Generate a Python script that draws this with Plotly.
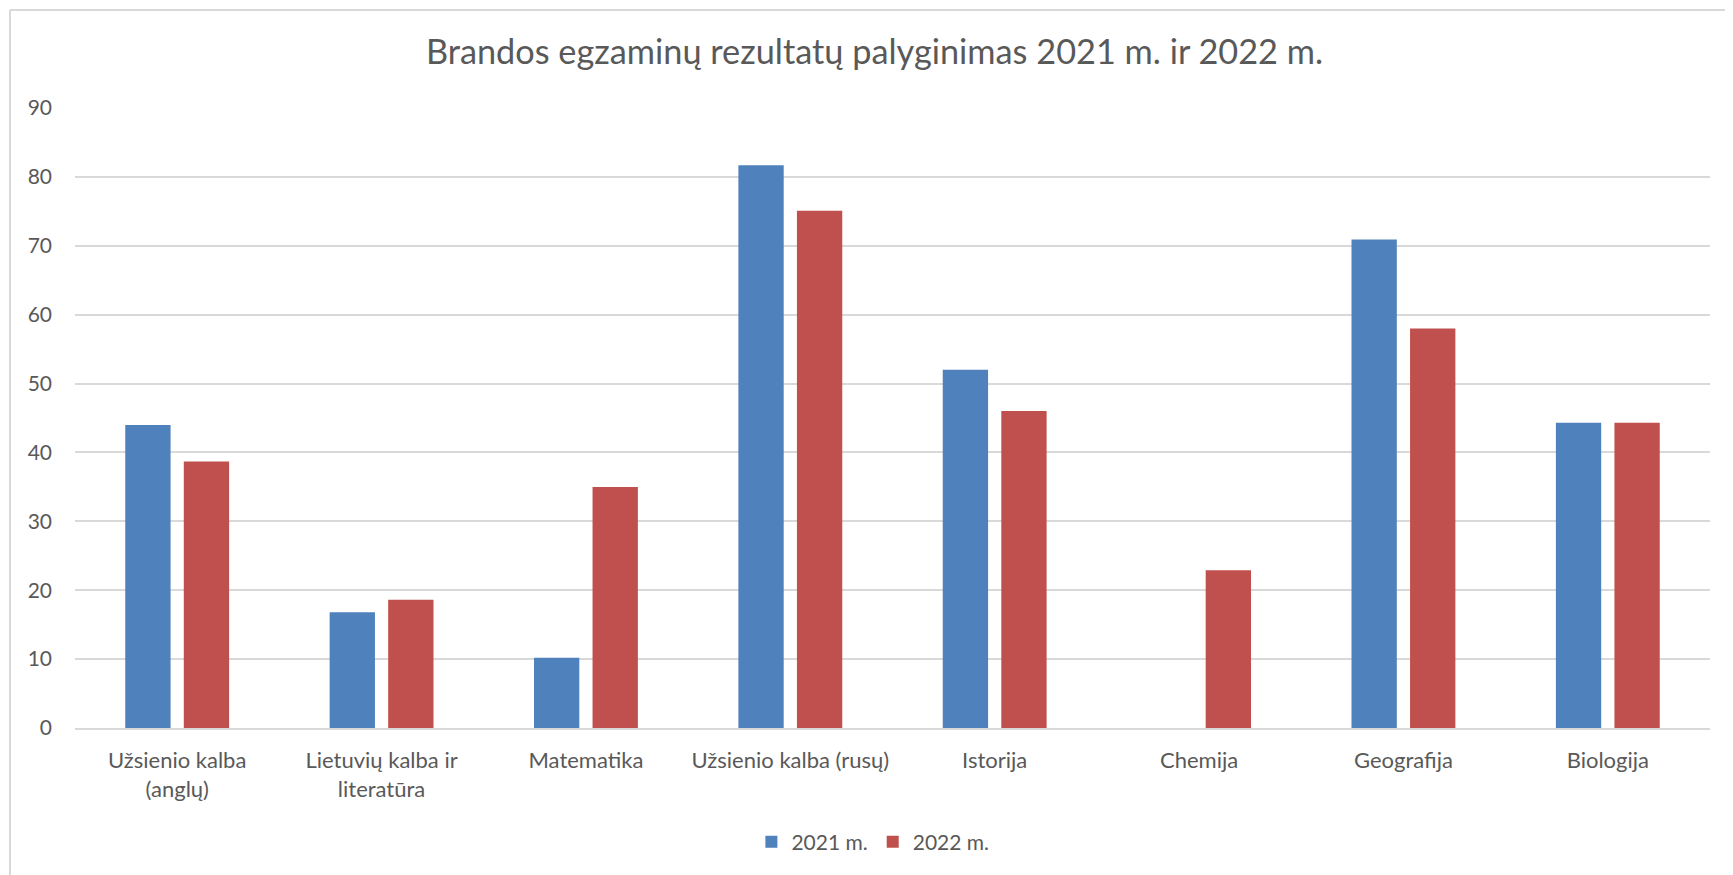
import plotly.graph_objects as go

categories = ["Užsienio kalba<br>(anglų)", "Lietuvių kalba ir<br>literatūra", "Matematika",
              "Užsienio kalba (rusų)", "Istorija", "Chemija", "Geografija", "Biologija"]
values_2021 = [44.0, 16.8, 10.2, 81.7, 52.0, 0, 70.9, 44.3]
values_2022 = [38.7, 18.6, 35.0, 75.1, 46.0, 22.9, 58.0, 44.3]
series_names = ["2021 m.", "2022 m."]
y_ticks = [0, 10, 20, 30, 40, 50, 60, 70, 80, 90]

FONT = "Lato"
TXT = "#595959"
GRID = "#d9d9d9"

# page body has an 8px offset; margins compensate so plot area sits at page x 75..1710, y 108..728
OFF = 8
W, H = 1733, 875
ML, MT, MR, MB = 75 - OFF, 108 - OFF, W - 1710 + OFF, H - 728 + OFF
PW, PH = W - ML - MR, H - MT - MB

fig = go.Figure()
fig.add_trace(go.Bar(name=series_names[0], x=categories, y=values_2021,
                     marker=dict(color="#4F81BD", line=dict(width=0))))
fig.add_trace(go.Bar(name=series_names[1], x=categories, y=values_2022,
                     marker=dict(color="#C0504D", line=dict(width=0))))

bx = (10 - OFF - ML) / PW
by = 1 + (MT - (10 - OFF)) / PH

fig.update_layout(
    width=W, height=H,
    paper_bgcolor="white", plot_bgcolor="white",
    margin=dict(l=ML, r=MR, t=MT, b=MB),
    barmode="group", bargap=0.427, bargroupgap=0.226,
    font=dict(family=FONT, color=TXT, size=22),
    title=dict(text="Brandos egzaminų rezultatų palyginimas 2021 m. ir 2022 m.",
               x=0.5, xanchor="center", y=1 - (52 - OFF) / H, yanchor="middle",
               font=dict(family=FONT, size=34.3, color=TXT)),
    showlegend=True,
    legend=dict(orientation="h", x=0.488, xanchor="center", y=-(842 - 728) / PH, yanchor="middle",
                font=dict(family=FONT, size=21, color=TXT), traceorder="normal"),
    xaxis=dict(showgrid=False, showline=True, linecolor=GRID, linewidth=2,
               ticks="", ticklabelstandoff=12,
               tickfont=dict(family=FONT, size=22, color=TXT)),
    yaxis=dict(range=[0, 90], tickvals=y_ticks, showgrid=True, gridcolor=GRID, gridwidth=1.5,
               zeroline=False, showline=False, ticks="", ticklabelstandoff=22,
               tickfont=dict(family=FONT, size=21, color=TXT)),
    shapes=[
        dict(type="line", xref="paper", yref="paper", x0=bx, x1=1.2, y0=by, y1=by,
             line=dict(color=GRID, width=2)),
        dict(type="line", xref="paper", yref="paper", x0=bx, x1=bx, y0=by, y1=-0.5,
             line=dict(color=GRID, width=2)),
    ],
)

fig.write_html("out.html")
